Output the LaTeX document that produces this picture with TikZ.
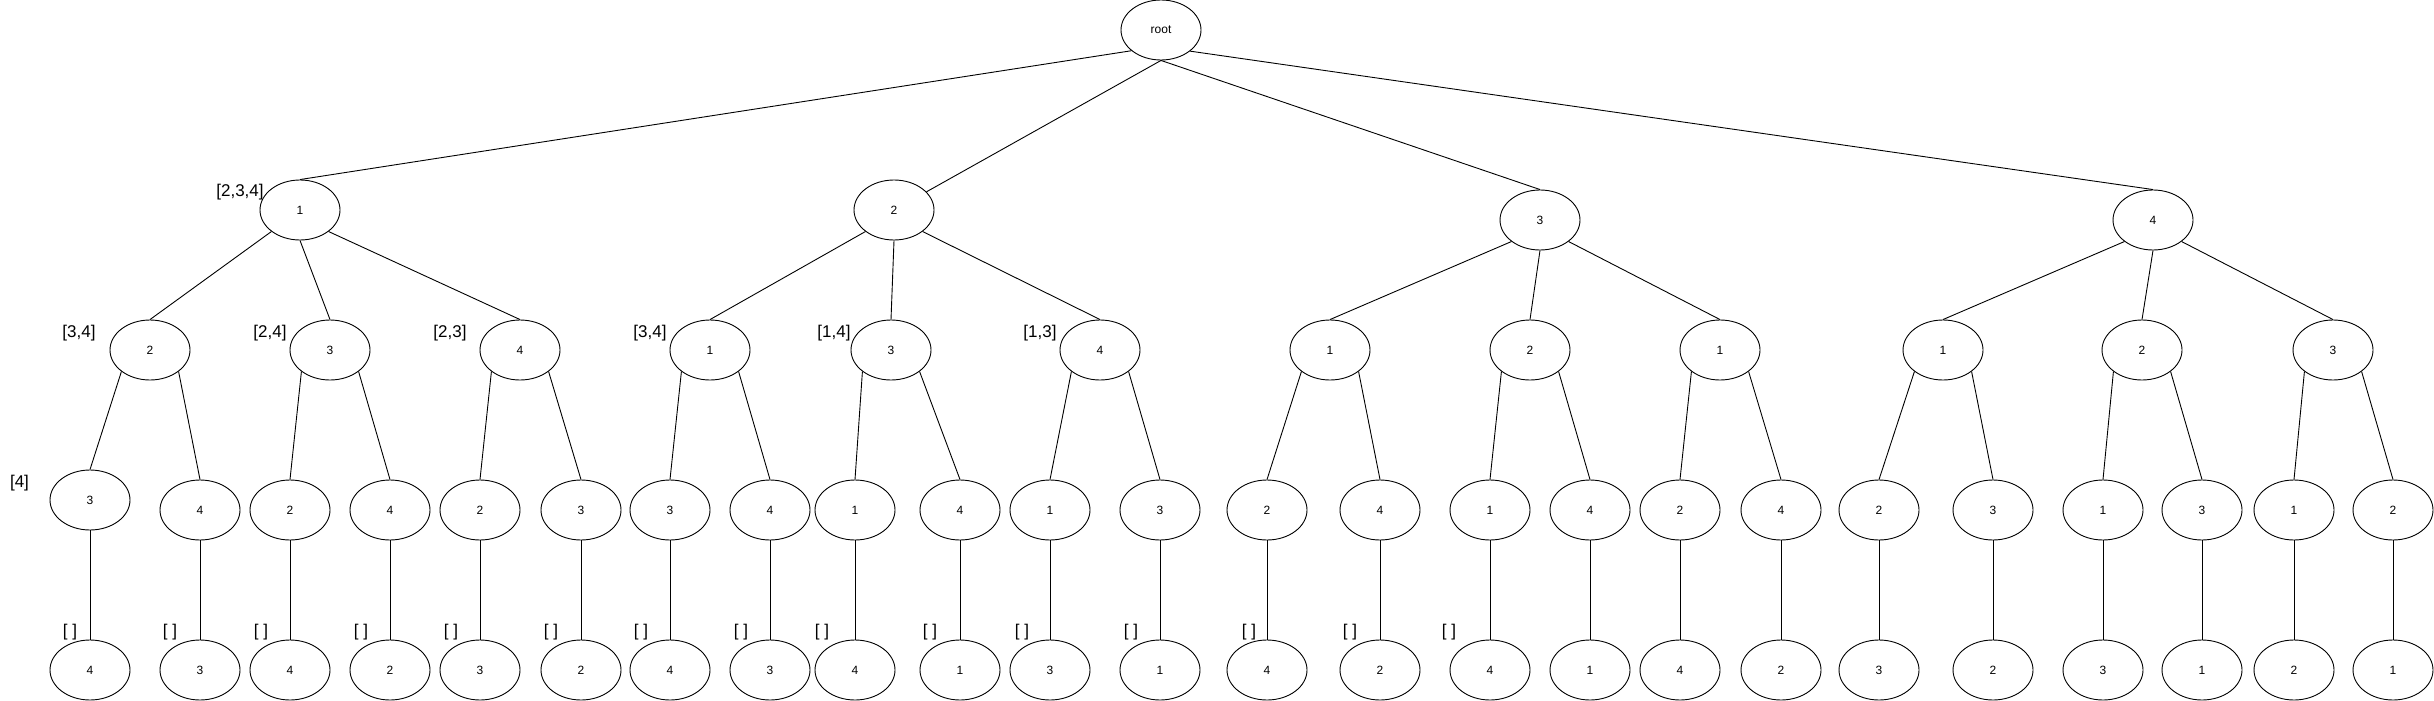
\documentclass[tikz,border=0pt]{standalone}
\usepackage{fontspec}
\setmainfont{Liberation Sans}
\usetikzlibrary{shapes.geometric}
\begin{document}
\begin{tikzpicture}[x=1pt, y=-1pt, line width=0.9pt,
	state/.style={draw, ellipse, minimum width=80pt, minimum height=60pt, inner sep=0pt, font=\fontsize{12}{14}\selectfont},
	setlabel/.style={inner sep=0pt, font=\fontsize{17}{20}\selectfont}]
	\useasboundingbox (0,0) rectangle (2434,701);
	% level 0 and 1
	\node [state] (root) at (1161, 30) {root};
	\node [state] (a1) at (300, 210) {1};
	\node [state] (a2) at (894, 210) {2};
	\node [state] (a3) at (1540, 220) {3};
	\node [state] (a4) at (2153, 220) {4};
	% level 2
	\node [state] (b1) at (150, 350) {2};
	\node [state] (b2) at (330, 350) {3};
	\node [state] (b3) at (520, 350) {4};
	\node [state] (b4) at (710, 350) {1};
	\node [state] (b5) at (891, 350) {3};
	\node [state] (b6) at (1100, 350) {4};
	\node [state] (b7) at (1330, 350) {1};
	\node [state] (b8) at (1530, 350) {2};
	\node [state] (b9) at (1720, 350) {1};
	\node [state] (b10) at (1943, 350) {1};
	\node [state] (b11) at (2142, 350) {2};
	\node [state] (b12) at (2333, 350) {3};
	% level 3
	\node [state] (c1) at (90, 500) {3};
	\node [state] (c2) at (200, 510) {4};
	\node [state] (c3) at (290, 510) {2};
	\node [state] (c4) at (390, 510) {4};
	\node [state] (c5) at (480, 510) {2};
	\node [state] (c6) at (581, 510) {3};
	\node [state] (c7) at (670, 510) {3};
	\node [state] (c8) at (770, 510) {4};
	\node [state] (c9) at (855, 510) {1};
	\node [state] (c10) at (960, 510) {4};
	\node [state] (c11) at (1050, 510) {1};
	\node [state] (c12) at (1160, 510) {3};
	\node [state] (c13) at (1267, 510) {2};
	\node [state] (c14) at (1380, 510) {4};
	\node [state] (c15) at (1490, 510) {1};
	\node [state] (c16) at (1590, 510) {4};
	\node [state] (c17) at (1680, 510) {2};
	\node [state] (c18) at (1781, 510) {4};
	\node [state] (c19) at (1879, 510) {2};
	\node [state] (c20) at (1993, 510) {3};
	\node [state] (c21) at (2103, 510) {1};
	\node [state] (c22) at (2202, 510) {3};
	\node [state] (c23) at (2294, 510) {1};
	\node [state] (c24) at (2393, 510) {2};
	% level 4
	\node [state] (d1) at (90, 670) {4};
	\node [state] (d2) at (200, 670) {3};
	\node [state] (d3) at (290, 670) {4};
	\node [state] (d4) at (390, 670) {2};
	\node [state] (d5) at (480, 670) {3};
	\node [state] (d6) at (581, 670) {2};
	\node [state] (d7) at (670, 670) {4};
	\node [state] (d8) at (770, 670) {3};
	\node [state] (d9) at (855, 670) {4};
	\node [state] (d10) at (960, 670) {1};
	\node [state] (d11) at (1050, 670) {3};
	\node [state] (d12) at (1160, 670) {1};
	\node [state] (d13) at (1267, 670) {4};
	\node [state] (d14) at (1380, 670) {2};
	\node [state] (d15) at (1490, 670) {4};
	\node [state] (d16) at (1590, 670) {1};
	\node [state] (d17) at (1680, 670) {4};
	\node [state] (d18) at (1781, 670) {2};
	\node [state] (d19) at (1879, 670) {3};
	\node [state] (d20) at (1993, 670) {2};
	\node [state] (d21) at (2103, 670) {3};
	\node [state] (d22) at (2202, 670) {1};
	\node [state] (d23) at (2294, 670) {2};
	\node [state] (d24) at (2393, 670) {1};
	% remaining sets
	\node [setlabel] (s1) at (240, 192) {[2,3,4]};
	\node [setlabel] (s2) at (79, 333) {[3,4]};
	\node [setlabel] (s3) at (270, 333) {[2,4]};
	\node [setlabel] (s4) at (450, 333) {[2,3]};
	\node [setlabel] (s5) at (650, 333) {[3,4]};
	\node [setlabel] (s6) at (834, 333) {[1,4]};
	\node [setlabel] (s7) at (1040, 333) {[1,3]};
	\node [setlabel] (s8) at (19.5, 483) {[4]};
	\node [setlabel] (e1) at (70, 632) {[ ]};
	\node [setlabel] (e2) at (170, 632) {[ ]};
	\node [setlabel] (e3) at (261, 632) {[ ]};
	\node [setlabel] (e4) at (361, 632) {[ ]};
	\node [setlabel] (e5) at (451, 632) {[ ]};
	\node [setlabel] (e6) at (551, 632) {[ ]};
	\node [setlabel] (e7) at (641, 632) {[ ]};
	\node [setlabel] (e8) at (741, 632) {[ ]};
	\node [setlabel] (e9) at (822, 632) {[ ]};
	\node [setlabel] (e10) at (930, 632) {[ ]};
	\node [setlabel] (e11) at (1022, 632) {[ ]};
	\node [setlabel] (e12) at (1131, 632) {[ ]};
	\node [setlabel] (e13) at (1249, 632) {[ ]};
	\node [setlabel] (e14) at (1350, 632) {[ ]};
	\node [setlabel] (e15) at (1449, 632) {[ ]};
	% edges from the root
	\draw (root.215) to (a1.north);
	\draw (root.south) to (a2);
	\draw (root.south) to (a3.north);
	\draw (root.324) to (a4.north);
	% edges to level 2
	\draw (a1.217) to (b1.north);
	\draw (a1.south) to (b2.north);
	\draw (a1.323) to (b3.north);
	\draw (a2.217) to (b4.north);
	\draw (a2.south) to (b5.north);
	\draw (a2.323) to (b6.north);
	\draw (a3.217) to (b7.north);
	\draw (a3.south) to (b8.north);
	\draw (a3.323) to (b9.north);
	\draw (a4.217) to (b10.north);
	\draw (a4.south) to (b11.north);
	\draw (a4.323) to (b12.north);
	% edges to level 3
	\draw (b1.217) to (c1.north);
	\draw (b1.323) to (c2.north);
	\draw (b2.217) to (c3.north);
	\draw (b2.323) to (c4.north);
	\draw (b3.217) to (c5.north);
	\draw (b3.323) to (c6.north);
	\draw (b4.217) to (c7.north);
	\draw (b4.323) to (c8.north);
	\draw (b5.217) to (c9.north);
	\draw (b5.323) to (c10.north);
	\draw (b6.217) to (c11.north);
	\draw (b6.323) to (c12.north);
	\draw (b7.217) to (c13.north);
	\draw (b7.323) to (c14.north);
	\draw (b8.217) to (c15.north);
	\draw (b8.323) to (c16.north);
	\draw (b9.217) to (c17.north);
	\draw (b9.323) to (c18.north);
	\draw (b10.217) to (c19.north);
	\draw (b10.323) to (c20.north);
	\draw (b11.217) to (c21.north);
	\draw (b11.323) to (c22.north);
	\draw (b12.217) to (c23.north);
	\draw (b12.323) to (c24.north);
	% edges to level 4
	\draw (c1) to (d1);
	\draw (c2) to (d2);
	\draw (c3) to (d3);
	\draw (c4) to (d4);
	\draw (c5) to (d5);
	\draw (c6) to (d6);
	\draw (c7) to (d7);
	\draw (c8) to (d8);
	\draw (c9) to (d9);
	\draw (c10) to (d10);
	\draw (c11) to (d11);
	\draw (c12) to (d12);
	\draw (c13) to (d13);
	\draw (c14) to (d14);
	\draw (c15) to (d15);
	\draw (c16) to (d16);
	\draw (c17) to (d17);
	\draw (c18) to (d18);
	\draw (c19) to (d19);
	\draw (c20) to (d20);
	\draw (c21) to (d21);
	\draw (c22) to (d22);
	\draw (c23) to (d23);
	\draw (c24) to (d24);
\end{tikzpicture}
\end{document}
